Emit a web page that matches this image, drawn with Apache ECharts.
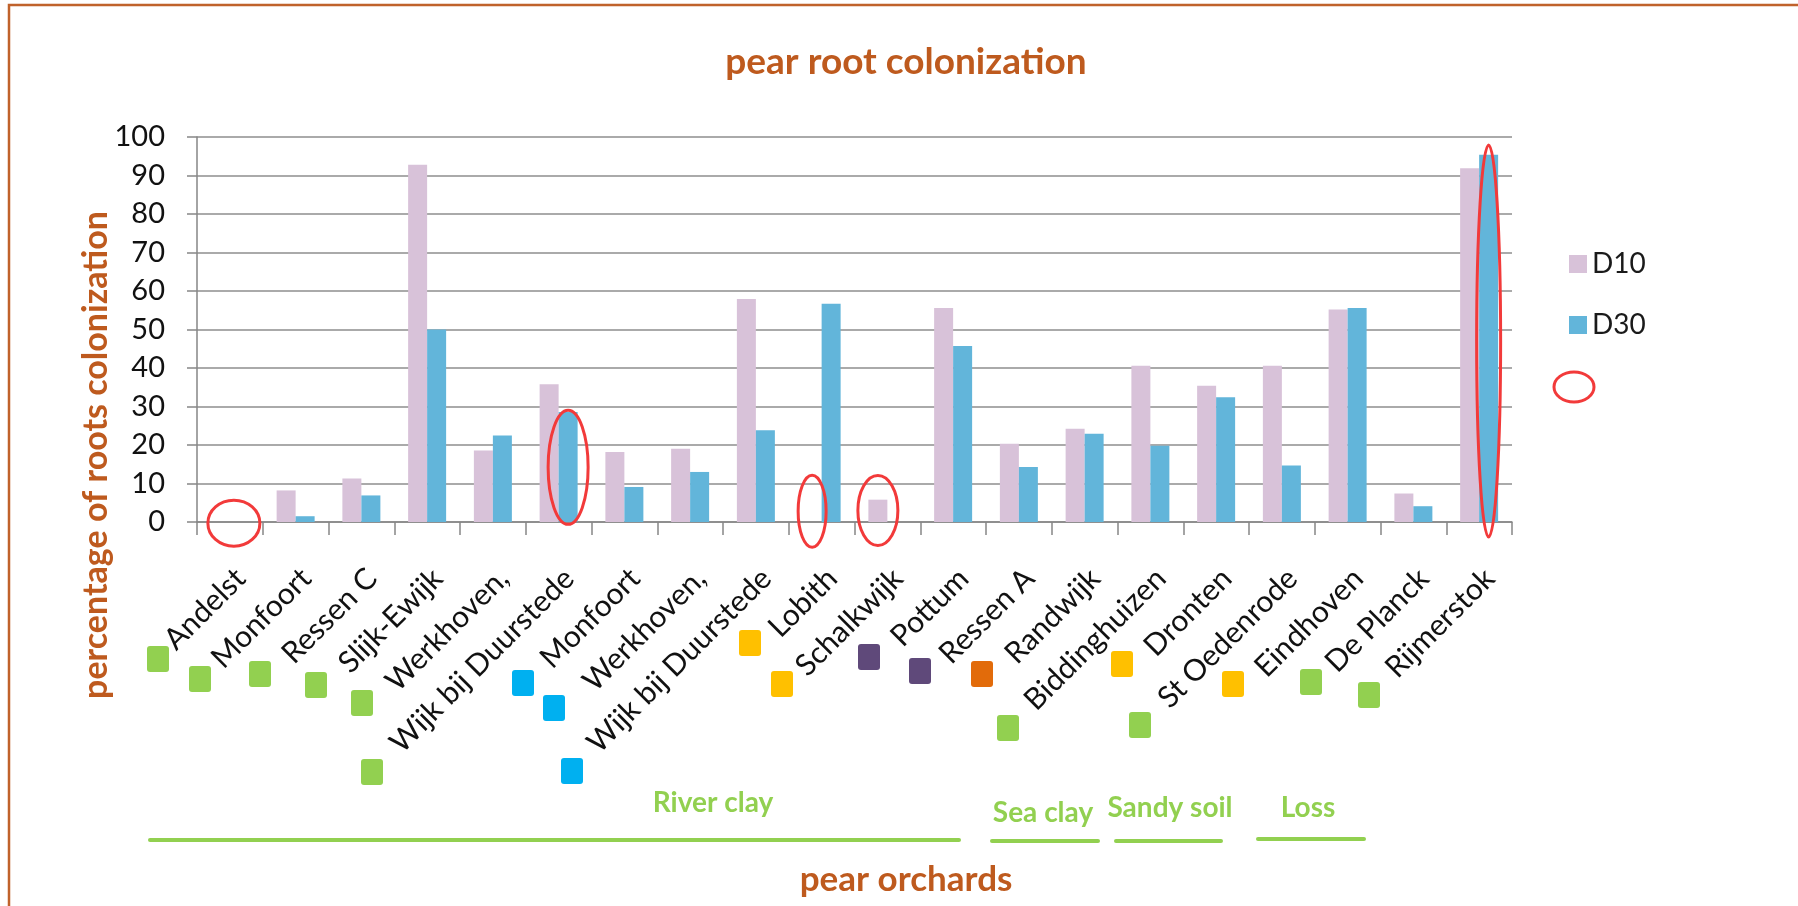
<!DOCTYPE html>
<html>
<head>
<meta charset="utf-8" />
<title>pear root colonization</title>
<script src="https://cdn.jsdelivr.net/npm/echarts@6/dist/echarts.min.js"></script>
</head>
<body style="margin:0">
<div id="chart" style="width:1798px;height:906px"></div>
<script type="text/javascript">
// orchards (x categories)
var orchards = ["Andelst", "Monfoort", "Ressen C", "Slijk-Ewijk", "Werkhoven,", "Wijk bij Duurstede",
  "Monfoort", "Werkhoven,", "Wijk bij Duurstede", "Lobith", "Schalkwijk", "Pottum", "Ressen A",
  "Randwijk", "Biddinghuizen", "Dronten", "St Oedenrode", "Eindhoven", "De Planck", "Rijmerstok"];
// % roots colonized
var d10 = [0, 8.2, 11.3, 92.8, 18.6, 35.8, 18.2, 19.0, 57.9, 0, 5.8, 55.6, 20.3, 24.2, 40.6, 35.4, 40.6, 55.2, 7.4, 91.9];
var d30 = [0, 1.5, 6.9, 50.0, 22.5, 28.6, 9.1, 13.0, 23.8, 56.7, 0, 45.7, 14.3, 22.9, 19.8, 32.4, 14.7, 55.6, 4.1, 95.4];
var seriesNames = ["D10", "D30"];
var soilNames = ["River clay", "Sea clay", "Sandy soil", "Loss"];

// red highlight ellipses: [category, bar (0=D10,1=D30), centre value, rx, ry]
var highlights = [[0, -1, -0.3, 26, 23], [5, 1, 14.2, 20, 57], [9, 0, 2.8, 14, 36], [10, 0, 3.0, 20, 35], [19, 1, 47, 12, 196]];

var brown = "#BE5A1E";
var green = "#92D050";
var font = "Lato, 'Open Sans', sans-serif";

var chart = echarts.init(document.getElementById("chart"));
var option = {
  backgroundColor: "#fff",
  animation: false,
  textStyle: { fontFamily: font },
  grid: { left: 197, right: 286, top: 137, bottom: 384, outerBoundsMode: "none" },
  legend: {
    orient: "vertical", left: 1564, top: 245, itemWidth: 18, itemHeight: 18, itemGap: 33,
    icon: "rect", data: seriesNames,
    textStyle: { fontSize: 28, color: "#1a1a1a", fontFamily: font, lineHeight: 28 }
  },
  xAxis: {
    type: "category", data: orchards,
    axisLine: { lineStyle: { color: "#868686", width: 1.5 } },
    axisTick: { show: true, length: 13, interval: 0, lineStyle: { color: "#868686", width: 1.5 } },
    axisLabel: { interval: 0, rotate: 45, align: "right", verticalAlign: "top", margin: 41,
      fontSize: 30, color: "#111", fontFamily: font }
  },
  yAxis: {
    type: "value", min: 0, max: 100, interval: 10,
    axisLine: { show: true, lineStyle: { color: "#868686", width: 1.5 } },
    axisTick: { show: true, length: 10, lineStyle: { color: "#868686", width: 1.5 } },
    axisLabel: { fontSize: 29, color: "#111", margin: 32, fontFamily: font },
    splitLine: { lineStyle: { color: "#8e8e8e", width: 1.5 } }
  },
  series: [
    { name: "D10", type: "bar", data: d10, barWidth: 19, barGap: "0%", itemStyle: { color: "#D8C2D9" } },
    { name: "D30", type: "bar", data: d30, barWidth: 19, itemStyle: { color: "#62B5DA" } }
  ]
};
chart.setOption(option);

// annotation layer
var g = [];
function txt(x, y, s, size, color, rot) {
  g.push({ type: "text", x: x, y: y, rotation: rot || 0,
    style: { text: s, fontSize: size, fontWeight: "bold", fill: color, fontFamily: font,
      textAlign: "center", textVerticalAlign: "middle" } });
}
txt(906, 62, "pear root colonization", 37, brown);
txt(96, 455, "percentage of roots colonization", 34, brown, Math.PI / 2);
txt(906, 880, "pear orchards", 35, brown);

// soil type labels + underline
var soilLines = [[150, 959, 840], [992, 1098, 841], [1116, 1221, 841], [1258, 1364, 839]];
var soilLabelPos = [[713, 803], [1043, 813], [1170, 808], [1308, 808]];
soilNames.forEach(function (n, i) {
  txt(soilLabelPos[i][0], soilLabelPos[i][1], n, 28, green);
  g.push({ type: "line", shape: { x1: soilLines[i][0], y1: soilLines[i][2], x2: soilLines[i][1], y2: soilLines[i][2] },
    style: { stroke: green, lineWidth: 4, lineCap: "round" } });
});

// coloured site markers
var markers = [[158, 659, "#92D050"], [200, 679, "#92D050"], [260, 674, "#92D050"], [316, 685, "#92D050"],
  [362, 703, "#92D050"], [372, 772, "#92D050"], [523, 683, "#00B0F0"], [554, 708, "#00B0F0"], [572, 771, "#00B0F0"],
  [750, 643, "#FFC000"], [782, 684, "#FFC000"], [869, 657, "#5F497A"], [920, 671, "#5F497A"], [982, 674, "#E26B0A"],
  [1008, 728, "#92D050"], [1122, 664, "#FFC000"], [1140, 725, "#92D050"], [1233, 684, "#FFC000"],
  [1311, 682, "#92D050"], [1369, 695, "#92D050"]];
markers.forEach(function (m) {
  g.push({ type: "rect", shape: { x: m[0] - 11, y: m[1] - 13, width: 22, height: 26, r: 3 }, style: { fill: m[2] } });
});

// red ellipses around bars
highlights.forEach(function (h) {
  var cx = chart.convertToPixel({ xAxisIndex: 0 }, h[0]) + (h[1] < 0 ? 4 : (h[1] === 0 ? -9.5 : 9.5));
  var cy = chart.convertToPixel({ yAxisIndex: 0 }, h[2]);
  g.push({ type: "ellipse", shape: { cx: cx, cy: cy, rx: h[3], ry: h[4] },
    style: { fill: null, stroke: "#F23A3A", lineWidth: 3 }, z: 100 });
});
g.push({ type: "ellipse", shape: { cx: 1574, cy: 387, rx: 20, ry: 15 }, style: { fill: null, stroke: "#F23A3A", lineWidth: 3 } });

// chart frame (left + top edge)
g.push({ type: "polyline", shape: { points: [[9, 906], [9, 5], [1798, 5]] }, style: { stroke: "#C0622B", lineWidth: 2.5, fill: null } });

chart.setOption({ graphic: g });
</script>
</body>
</html>
